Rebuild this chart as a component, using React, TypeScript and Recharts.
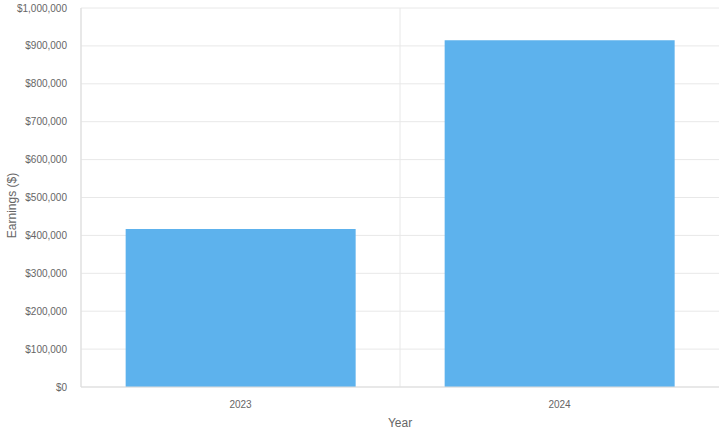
import React from "react";
import { BarChart, Bar, XAxis, YAxis, CartesianGrid } from "recharts";

const years = ["2023", "2024"];
const earnings = [417000, 915000];
const yTicks = [0, 100000, 200000, 300000, 400000, 500000, 600000, 700000, 800000, 900000, 1000000];

const data = years.map((year, i) => ({ year, earnings: earnings[i] }));

const fmt = (v: number) => "$" + v.toLocaleString("en-US");

export default function App() {
  return (
    <div style={{ position: "absolute", left: 0, top: 0, fontFamily: "'Liberation Sans', Arial, sans-serif" }}>
      <BarChart
        width={720}
        height={431}
        data={data}
        margin={{ top: 8, right: 1, bottom: 0, left: 0 }}
        barCategoryGap="14%"
      >
        <CartesianGrid
          stroke="#e8e8e8"
          verticalCoordinatesGenerator={({ offset }: any) =>
            years.map((_, i) => offset.left + (i * offset.width) / years.length)
          }
        />
        <XAxis
          dataKey="year"
          height={44}
          tick={{ fontSize: 10, fill: "#666" }}
          tickLine={false}
          axisLine={{ stroke: "#ddd" }}
          tickMargin={8}
          label={{ value: "Year", position: "insideBottom", offset: 4, fontSize: 12, fill: "#666" }}
        />
        <YAxis
          width={81}
          domain={[0, 1000000]}
          ticks={yTicks}
          tickFormatter={fmt}
          tick={{ fontSize: 10, fill: "#666" }}
          tickLine={false}
          axisLine={{ stroke: "#ddd" }}
          tickMargin={8}
          label={{ value: "Earnings ($)", angle: -90, position: "insideLeft", offset: 12, dy: 8, fontSize: 12, fill: "#666", style: { textAnchor: "middle" } }}
        />
        <Bar dataKey="earnings" fill="#5DB2ED" isAnimationActive={false} />
      </BarChart>
    </div>
  );
}
